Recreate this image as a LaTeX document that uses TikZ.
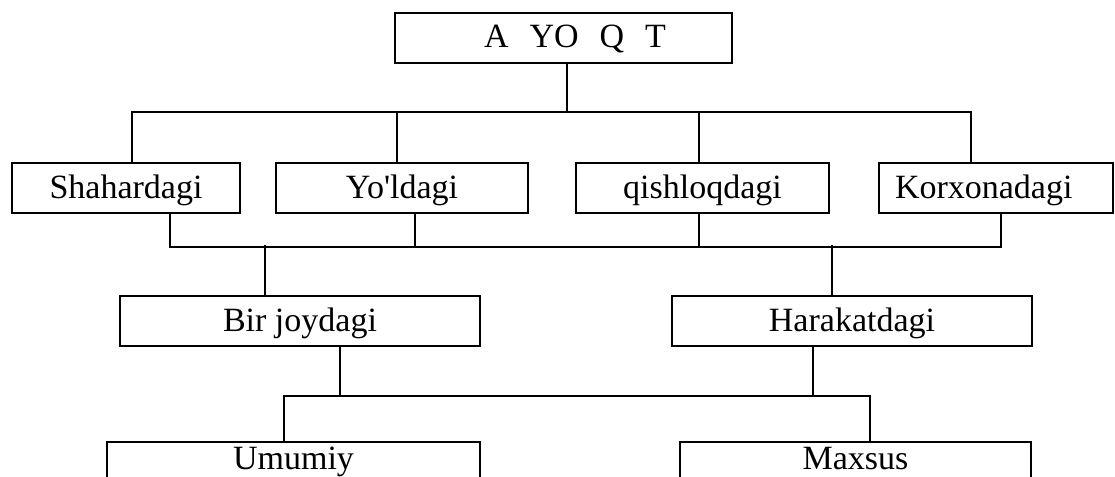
\documentclass[tikz,border=0pt]{standalone}
\usepackage{fontspec}
\setmainfont{Liberation Serif}
\begin{document}
\begin{tikzpicture}[x=1pt, y=-1pt, line width=2pt,
    mybox/.style={draw, inner sep=0pt, text height=35pt, text depth=15pt, font=\fontsize{34}{40}\selectfont},
    lowbox/.style={mybox, anchor=north, text height=27pt, text depth=23pt}]
    \useasboundingbox (0,0) rectangle (1115,476);
    % boxes
    \node[mybox, minimum width=337pt] (top) at (563.5,38) {\hspace*{23pt}A\hspace{21pt}YO\hspace{21pt}Q\hspace{21pt}T};
    \node[mybox, minimum width=228pt] (shahar) at (126,188) {Shahardagi};
    \node[mybox, minimum width=252pt] (yol) at (402,188) {Yo\textquotesingle ldagi};
    \node[mybox, minimum width=253pt] (qish) at (702.5,188) {qishloqdagi};
    \node[mybox, text width=202pt, inner xsep=16pt, align=left] (korx) at (996,188) {Korxonadagi};
    \node[mybox, minimum width=360pt] (bir) at (300,321) {Bir joydagi};
    \node[mybox, minimum width=360pt] (harakat) at (852,321) {Harakatdagi};
    \node[lowbox, minimum width=373pt] (umumiy) at (293.5,441) {Umumiy};
    \node[lowbox, minimum width=351pt] (maxsus) at (855.5,441) {Maxsus};
    % first level
    \draw ([xshift=3.5pt]top.south) -- ++(0,49.5);
    \draw ([xshift=6pt]shahar.north) -- ++(0,-50) -| ([xshift=-25pt]korx.north);
    \foreach \n/\dx in {yol/-5, qish/-3.5}
      \draw ([xshift=\dx pt]\n.north) -- ++(0,-50);
    % second level
    \draw ([xshift=44pt]shahar.south) -- ++(0,33) -| ([xshift=5pt]korx.south);
    \foreach \n/\dx in {yol/13, qish/-3.5}
      \draw ([xshift=\dx pt]\n.south) -- ++(0,33);
    \draw ([xshift=-35pt]bir.north) -- ++(0,-50);
    \draw ([xshift=-20pt]harakat.north) -- ++(0,-50);
    % third level
    \draw ([xshift=40pt]bir.south) -- ++(0,50);
    \draw ([xshift=-39pt]harakat.south) -- ++(0,50);
    \draw ([xshift=-9.5pt]umumiy.north) -- ++(0,-45) -| ([xshift=14.5pt]maxsus.north);
\end{tikzpicture}
\end{document}
